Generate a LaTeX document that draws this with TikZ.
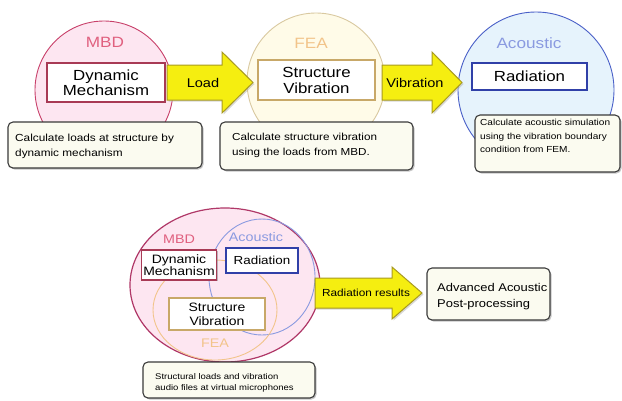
\documentclass[tikz,border=0pt]{standalone}
\usepackage{fontspec}
\setmainfont{Liberation Sans}[FakeStretch=1.15]
\usetikzlibrary{shadows,shapes.geometric}
\definecolor{mbdline}{HTML}{C8406A}
\definecolor{mbdfill}{HTML}{FDE6F1}
\definecolor{mbdtext}{HTML}{E0607F}
\definecolor{mbdbox}{HTML}{A83A55}
\definecolor{bigline}{HTML}{B03868}
\definecolor{fealine}{HTML}{D9C9A0}
\definecolor{feafill}{HTML}{FFFBE8}
\definecolor{featext}{HTML}{F2C48A}
\definecolor{feabox}{HTML}{C8A868}
\definecolor{acline}{HTML}{4A60C8}
\definecolor{acfill}{HTML}{E6F3FC}
\definecolor{actext}{HTML}{8A9AE0}
\definecolor{acbox}{HTML}{3040A8}
\definecolor{arrfill}{HTML}{F5EE10}
\definecolor{arrline}{HTML}{A89A20}
\definecolor{descfill}{HTML}{FBFBF0}
\definecolor{descline}{HTML}{3A3A3A}
\begin{document}
\begin{tikzpicture}[x=1bp,y=-1bp,
  bigcirc/.style={circle, inner sep=0pt, line width=0.9bp},
  bigell/.style={ellipse, inner sep=0pt, line width=0.9bp},
  lab/.style={inner sep=0pt},
  tbox/.style={rectangle, fill=white, line width=1.6bp, inner sep=0pt, align=center,
    drop shadow={shadow xshift=1bp, shadow yshift=-1bp, fill=black!50}},
  dbox/.style={rectangle, draw=descline, fill=descfill, rounded corners=5bp, line width=1.1bp, inner sep=0pt,
    drop shadow={shadow xshift=1.5bp, shadow yshift=-1.5bp, fill=black!45}},
  dtext/.style={inner sep=0pt, align=left, anchor=north west},
  blockarrow/.style={draw=arrline, fill=arrfill, line width=1bp, line join=miter,
    drop shadow={shadow xshift=1.5bp, shadow yshift=-1.5bp, fill=black!30}},
  atext/.style={inner sep=0pt}
]
\useasboundingbox[fill=white] (0,0) rectangle (622,400);

% ---------- top row ----------
\node[bigcirc, draw=mbdline, fill=mbdfill, minimum size=138bp] (mbd) at (104,90) {};
\node[bigcirc, draw=fealine, fill=feafill, minimum size=138bp] (fea) at (316,82) {};
\node[bigcirc, draw=acline, fill=acfill, minimum size=156bp] (ac) at (536,90) {};

\node[lab, text=mbdtext, font=\fontsize{15}{15}\selectfont] (mbdl) at (105,42) {MBD};
\node[lab, text=featext, font=\fontsize{15}{15}\selectfont] (feal) at (311,43) {FEA};
\node[lab, text=actext, font=\fontsize{15}{15}\selectfont] (acl) at (529,43) {Acoustic};

\node[tbox, draw=mbdbox, minimum width=118bp, minimum height=39bp, font=\fontsize{14.7}{15.5}\selectfont] (dm) at (106,82.5) {Dynamic\\Mechanism};
\node[tbox, draw=feabox, minimum width=117bp, minimum height=40bp, font=\fontsize{14.7}{16}\selectfont] (sv) at (316.5,80) {Structure\\Vibration};
\node[tbox, draw=acbox, minimum width=115bp, minimum height=27bp, font=\fontsize{14.7}{16}\selectfont] (rad) at (529.5,76.5) {Radiation};

\node[dbox, minimum width=194bp, minimum height=46bp] (d1) at (105,145) {};
\node[dtext, font=\fontsize{10.3}{15}\selectfont] (d1t) at (15,134) {Calculate loads at structure by\\dynamic mechanism};
\node[dbox, minimum width=193bp, minimum height=48bp] (d2) at (316.5,146) {};
\node[dtext, font=\fontsize{10.2}{15}\selectfont] (d2t) at (232,133) {Calculate structure vibration\\using the loads from MBD.};
\node[dbox, minimum width=145bp, minimum height=57bp] (d3) at (547.5,143.5) {};
\node[dtext, font=\fontsize{8.8}{13.5}\selectfont] (d3t) at (480,119) {Calculate acoustic simulation\\using the vibration boundary\\condition from FEM.};

\path[blockarrow] (167,65) -- (222,65) -- (222,52) -- (253,82.5) -- (222,113) -- (222,100) -- (167,100) -- cycle;
\node[atext, font=\fontsize{12.7}{13}\selectfont] (loadt) at (203,83) {Load};
\path[blockarrow] (382,65) -- (432,65) -- (432,52) -- (462,82.5) -- (432,113) -- (432,100) -- (382,100) -- cycle;
\node[atext, font=\fontsize{12.7}{13}\selectfont] (vibt) at (415,83) {Vibration};

% ---------- bottom ----------
\node[bigell, draw=bigline, fill=mbdfill, line width=1.2bp, minimum width=190bp, minimum height=154bp] (all) at (225,285) {};
\node[bigell, draw=actext, minimum width=106bp, minimum height=116bp] (aci) at (262,277) {};
\node[bigell, draw=featext, minimum width=124bp, minimum height=100bp] (feai) at (215,310) {};

\node[lab, text=mbdtext, font=\fontsize{12.5}{13}\selectfont] (mbdl2) at (179,239) {MBD};
\node[lab, text=actext, font=\fontsize{12.5}{13}\selectfont] (acl2) at (256,237) {Acoustic};
\node[lab, text=featext, font=\fontsize{12.5}{13}\selectfont] (feal2) at (215,343) {FEA};

\node[tbox, draw=mbdbox, line width=1.3bp, minimum width=75bp, minimum height=30bp, font=\fontsize{12.2}{12.5}\selectfont] (dm2) at (179,265) {Dynamic\\Mechanism};
\node[tbox, draw=acbox, line width=1.3bp, minimum width=72bp, minimum height=25bp, font=\fontsize{11.7}{12}\selectfont] (rad2) at (262,260.5) {Radiation};
\node[tbox, draw=feabox, line width=1.3bp, minimum width=96bp, minimum height=32bp, font=\fontsize{12.2}{14}\selectfont] (sv2) at (217,314) {Structure\\Vibration};

\node[dbox, minimum width=172bp, minimum height=36bp] (d4) at (229,380) {};
\node[dtext, font=\fontsize{8.3}{11}\selectfont] (d4t) at (155,373) {Structural loads and vibration\\audio files at virtual microphones};

\path[blockarrow] (315,278) -- (392,278) -- (392,267) -- (422,293) -- (392,319) -- (392,308) -- (315,308) -- cycle;
\node[atext, font=\fontsize{10.3}{11}\selectfont] (rrt) at (366,293) {Radiation results};

\node[dbox, minimum width=123bp, minimum height=52bp] (adv) at (488.5,294) {};
\node[dtext, font=\fontsize{11.3}{16.5}\selectfont] (advt) at (437,283) {Advanced Acoustic\\Post-processing};
\end{tikzpicture}
\end{document}
